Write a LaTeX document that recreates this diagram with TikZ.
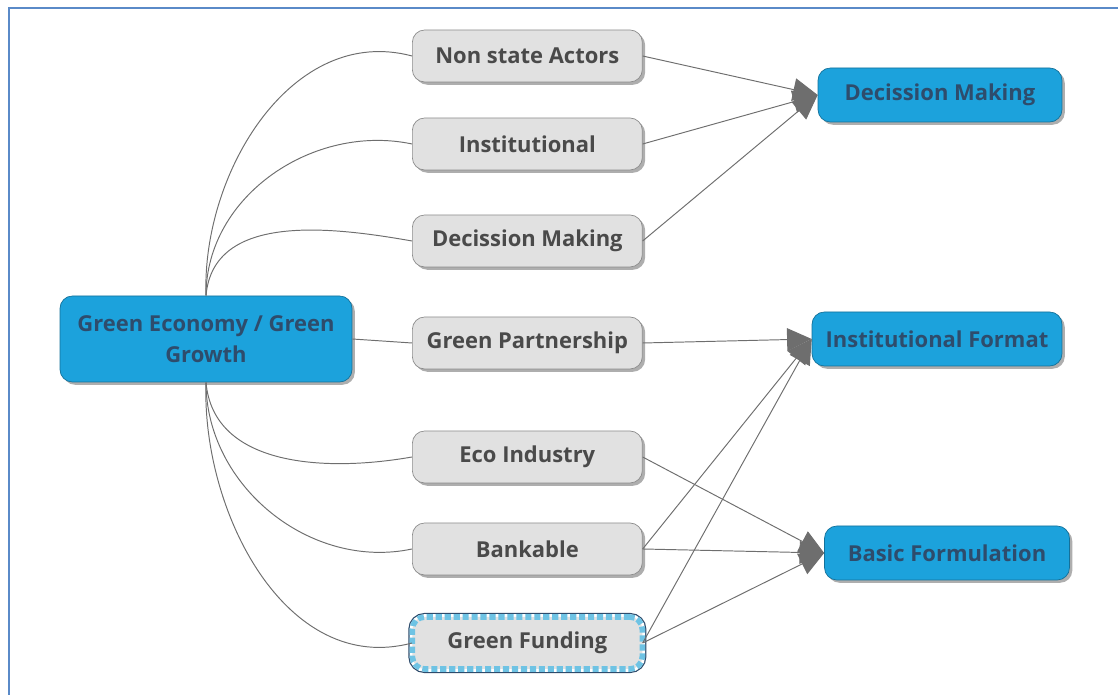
\documentclass[tikz,border=0pt]{standalone}
\usepackage{fontspec}
\setmainfont{Open Sans}
\usetikzlibrary{arrows.meta,shadows}

\definecolor{hubblue}{HTML}{1CA2DC}
\definecolor{hubtext}{HTML}{2E4C6C}
\definecolor{boxgray}{HTML}{E1E1E1}
\definecolor{boxline}{HTML}{8C8C8C}
\definecolor{boxtext}{HTML}{4A4A4A}
\definecolor{linkgray}{HTML}{6E6E6E}
\definecolor{dashblue}{HTML}{6EC3E4}
\definecolor{framecol}{HTML}{5A8AC8}

\tikzset{
  boxshadow/.style={drop shadow={shadow xshift=1.6pt,shadow yshift=-1.6pt,opacity=0.45,fill=black!70}},
  bluebox/.style={rectangle,rounded corners=7pt,fill=hubblue,draw=hubblue!70!black,
    text=hubtext,font=\fontsize{12.5}{17.5}\selectfont\bfseries,boxshadow,
    minimum height=1.08cm},
  graybox/.style={rectangle,rounded corners=7pt,fill=boxgray,draw=boxline,
    text=boxtext,font=\fontsize{12.5}{15}\selectfont\bfseries,boxshadow,
    minimum height=1.04cm,minimum width=4.6cm,anchor=west},
  fundbox/.style={graybox,draw=none,
    preaction={draw=hubtext,line width=4.6pt},
    preaction={draw=white,line width=3.2pt},
    postaction={draw=dashblue,line width=3.2pt,dash pattern=on 3.5pt off 1.6pt}},
  stem/.style={draw=linkgray,line width=0.55pt},
  link/.style={draw=linkgray,line width=0.55pt,-{Triangle[length=14pt,width=13pt,fill=linkgray]}}
}

\begin{document}
\begin{tikzpicture}[x=0.02cm,y=0.02cm]
\useasboundingbox (0,0) rectangle (1118,695);
% page frame
\draw[framecol,line width=1.2pt] (9,0) -- (9,687) -- (1118,687);

% central topic
\node[bluebox,minimum width=5.84cm,minimum height=1.72cm,align=center]
  (hub) at (206,356) {Green Economy / Green\\Growth};

% branches
\node[graybox] (actors)  at (412,639) {Non state Actors};
\node[graybox] (inst)    at (412,551) {Institutional};
\node[graybox] (decide)  at (412,454) {Decission Making};
\node[graybox] (partner) at (412,352) {Green Partnership};
\node[graybox] (eco)     at (412,238) {Eco Industry};
\node[graybox] (bank)    at (412,146) {Bankable};
\node[fundbox] (fund)    at (412,52)  {Green Funding};

% outcomes
\node[bluebox,minimum width=4.88cm] (outdecide) at (940,600) {Decission Making};
\node[bluebox,minimum width=5cm]    (outformat) at (937,356) {Institutional Format};
\node[bluebox,minimum width=4.9cm]  (outbasic)  at (947,142) {Basic Formulation};

% hub to branches
\draw[stem] (hub.north) to[out=92,in=165] (actors.west);
\draw[stem] (hub.north) to[out=90,in=168] (inst.west);
\draw[stem] (hub.north) to[out=85,in=170] (decide.west);
\draw[stem] (hub.east) -- (partner.west);
\draw[stem] (hub.south) to[out=-85,in=190] (eco.west);
\draw[stem] (hub.south) to[out=-90,in=192] (bank.west);
\draw[stem] (hub.south) to[out=-92,in=195] (fund.west);

% branches to outcomes
\draw[link] (actors.east)  -- (outdecide.west);
\draw[link] (inst.east)    -- (outdecide.west);
\draw[link] (decide.east)  -- (outdecide.west);
\draw[link] (partner.east) -- (outformat.west);
\draw[link] (bank.east)    -- (outformat.west);
\draw[link] (fund.east)    -- (outformat.west);
\draw[link] (eco.east)     -- (outbasic.west);
\draw[link] (bank.east)    -- (outbasic.west);
\draw[link] (fund.east)    -- (outbasic.west);
\end{tikzpicture}
\end{document}
